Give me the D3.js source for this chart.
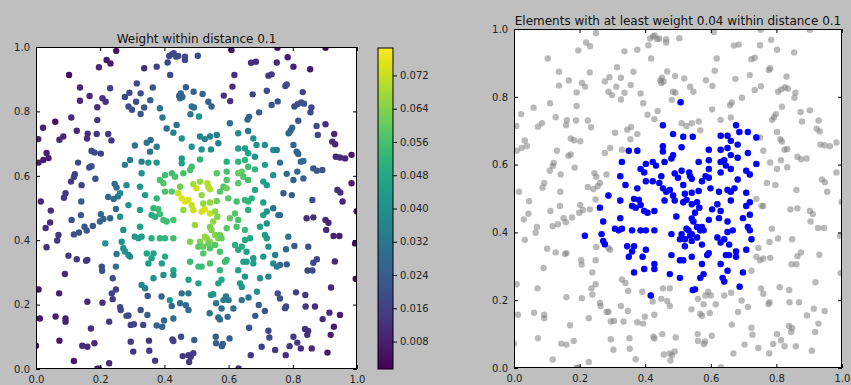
<!DOCTYPE html>
<html><head><meta charset="utf-8">
<script src="https://cdn.jsdelivr.net/npm/d3@7"></script>
<style>body{margin:0;background:#bfbfbf}svg{display:block}text{font-family:"DejaVu Sans",sans-serif}</style>
</head><body><svg id="c" width="851" height="385"></svg>
<script>
// point x positions
const xs = [
0.250,0.220,0.232,0.196,0.103,0.137,0.137,0.167,0.207,0.217,0.231,0.191,0.110,0.060,0.022,0.007,0.073,0.085,0.127,0.161,
0.159,0.191,0.189,0.225,0.235,0.173,0.183,0.202,0.033,0.023,0.008,0.039,0.131,0.166,0.173,0.121,0.118,0.109,0.185,0.142,
0.092,0.087,0.015,0.141,0.225,0.242,0.255,0.245,0.251,0.337,0.376,0.410,0.418,0.415,0.424,0.429,0.437,0.443,0.464,0.464,
0.277,0.291,0.288,0.299,0.314,0.312,0.326,0.337,0.326,0.364,0.356,0.386,0.394,0.467,0.446,0.451,0.456,0.449,
0.609,0.752,0.902,0.504,0.670,0.685,0.750,0.784,0.802,0.854,0.618,0.724,0.734,0.612,0.585,0.605,0.675,0.719,0.777,0.781,
0.831,0.491,0.519,0.537,0.547,0.485,0.492,0.481,0.508,0.734,0.753,0.695,0.664,0.659,0.805,0.815,0.826,0.835,0.858,0.855,
0.817,0.874,0.902,0.878,0.929,0.787,0.793,0.798,0.802,0.923,0.932,0.934,0.947,0.963,0.983,0.812,0.817,0.825,0.833,0.760,
0.864,0.875,0.892,0.814,0.781,0.802,0.833,0.939,0.948,0.983,0.955,0.861,0.771,0.797,
0.999,0.994,0.996,0.843,0.864,0.902,0.911,0.904,0.927,0.945,0.760,0.786,0.805,0.779,0.848,0.846,0.861,0.864,0.875,0.931,
0.919,0.760,0.781,0.753,0.760,0.810,0.839,0.779,0.776,0.840,0.869,0.914,0.893,0.947,0.928,0.918,0.838,0.848,0.845,0.802,
0.814,0.790,0.825,0.859,0.908,0.778,0.745,0.724,0.727,0.703,0.669,0.664,0.631,0.713,0.683,0.694,0.688,0.662,0.615,0.600,
0.584,0.592,0.641,0.561,0.578,0.541,0.568,0.573,0.597,0.560,0.561,0.579,0.582,0.603,0.493,0.490,0.482,0.545,0.552,0.641,
0.046,0.044,0.030,0.070,0.066,0.033,0.111,0.118,0.134,0.151,0.158,0.177,0.140,0.202,0.199,0.210,0.231,0.249,0.216,0.251,
0.249,0.101,0.127,0.156,0.160,0.205,0.206,0.239,0.008,0.072,0.090,0.160,0.207,0.239,0.249,0.236,0.262,0.264,0.282,0.288,
0.326,0.334,0.295,0.305,0.228,0.171,0.061,0.092,0.092,0.012,0.073,0.000,0.144,0.160,0.182,0.118,0.191,0.196,0.228,0.303,
0.295,0.352,0.353,0.371,0.425,0.428,0.452,0.457,0.475,0.477,0.347,0.376,0.393,0.348,0.391,0.417,0.423,0.399,0.428,0.467,
0.449,0.475,0.475,0.454,
0.604,0.407,0.438,0.428,0.454,0.511,0.526,0.542,0.563,0.568,0.630,0.661,0.677,0.687,0.713,0.308,0.345,0.357,0.355,0.376,
0.485,0.516,0.545,0.630,0.651,0.661,0.682,0.739,0.750,0.293,0.277,0.329,0.350,0.376,0.454,0.454,0.511,0.594,0.630,0.651,
0.661,0.682,0.713,0.329,0.402,0.423,0.433,0.459,0.485,0.480,0.563,0.594,0.630,0.641,0.646,0.661,0.708,0.739,0.282,0.324,
0.386,0.397,0.449,0.490,0.500,0.511,0.534,0.537,0.542,0.573,0.584,0.594,0.594,0.630,0.682,0.719,0.262,0.340,0.376,0.402,
0.423,0.443,0.454,0.464,0.475,0.516,0.521,0.542,0.563,0.599,0.625,0.651,0.661,0.672,0.708,0.739,0.755,0.288,0.324,0.366,
0.381,0.386,0.397,0.428,0.459,0.485,0.490,0.516,0.526,0.542,0.558,0.565,0.604,0.620,0.630,0.661,0.708,0.719,0.262,0.272,
0.324,0.360,0.371,0.407,0.495,0.542,0.547,0.552,0.594,0.625,0.651,0.698,0.719,0.267,0.308,0.319,0.329,0.360,0.386,0.402,
0.428,0.480,0.511,0.526,0.532,0.542,0.558,0.568,0.573,0.578,0.620,0.641,0.651,0.667,0.713,0.719,0.724,0.272,0.277,0.288,
0.293,0.345,0.366,0.360,0.402,0.506,0.521,0.537,0.542,0.521,0.558,0.573,0.630,0.656,0.677,0.708,0.745,0.350,0.392,0.428,
0.480,0.506,0.516,0.542,0.573,0.589,0.594,0.630,0.646,0.656,0.677,0.739,0.750,0.329,0.340,0.366,0.397,0.428,0.475,0.506,
0.568,0.578,0.636,0.651,0.698,0.724
];
// point y positions
const ys = [
0.988,0.960,0.949,0.937,0.913,0.874,0.833,0.848,0.841,0.830,0.872,0.813,0.781,0.768,0.749,0.714,0.712,0.722,0.740,0.731,
0.716,0.773,0.730,0.730,0.710,0.677,0.672,0.669,0.671,0.649,0.641,0.655,0.641,0.626,0.630,0.605,0.596,0.582,0.591,0.571,
0.546,0.532,0.520,0.520,0.534,0.528,0.536,0.575,0.564,0.934,0.939,0.952,0.913,0.972,0.978,0.981,0.970,0.972,0.970,0.960,
0.845,0.858,0.815,0.805,0.887,0.830,0.856,0.812,0.792,0.874,0.835,0.810,0.781,0.875,0.848,0.856,0.845,0.841,
0.991,0.998,0.998,0.973,0.951,0.954,0.952,0.968,0.939,0.931,0.913,0.911,0.915,0.877,0.849,0.832,0.853,0.864,0.879,0.884,
0.860,0.861,0.854,0.830,0.815,0.815,0.812,0.791,0.784,0.820,0.831,0.797,0.783,0.775,0.815,0.822,0.828,0.824,0.812,0.797,
0.771,0.755,0.760,0.727,0.730,0.732,0.740,0.749,0.696,0.706,0.698,0.659,0.657,0.654,0.665,0.675,0.668,0.644,0.646,0.641,
0.623,0.616,0.618,0.613,0.606,0.587,0.592,0.556,0.548,0.577,0.520,0.525,0.546,0.540,
0.490,0.390,0.280,0.468,0.471,0.463,0.454,0.432,0.413,0.413,0.478,0.411,0.382,0.372,0.380,0.306,0.306,0.330,0.341,0.334,
0.253,0.323,0.325,0.235,0.219,0.238,0.230,0.194,0.189,0.194,0.194,0.175,0.155,0.168,0.131,0.106,0.124,0.118,0.106,0.100,
0.082,0.071,0.064,0.064,0.051,0.043,0.059,0.119,0.098,0.069,0.043,0.128,0.002,0.180,0.165,0.199,0.240,0.222,0.188,0.214,
0.214,0.225,0.214,0.204,0.188,0.173,0.160,0.154,0.162,0.100,0.080,0.071,0.078,0.095,0.090,0.049,0.038,0.230,0.232,0.255,
0.492,0.455,0.438,0.416,0.399,0.378,0.463,0.418,0.424,0.442,0.430,0.444,0.478,0.481,0.458,0.466,0.468,0.497,0.390,0.357,
0.318,0.352,0.341,0.336,0.339,0.318,0.305,0.282,0.247,0.235,0.295,0.209,0.206,0.217,0.247,0.235,0.192,0.183,0.165,0.166,
0.183,0.137,0.137,0.139,0.147,0.126,0.163,0.157,0.147,0.157,0.088,0.072,0.072,0.069,0.080,0.025,0.001,0.001,0.018,0.054,
0.085,0.088,0.057,0.026,0.092,0.087,0.100,0.040,0.043,0.022,0.168,0.135,0.131,0.227,0.225,0.214,0.196,0.151,0.157,0.198,
0.204,0.183,0.235,0.235,
0.763,0.747,0.758,0.734,0.716,0.722,0.714,0.722,0.727,0.701,0.732,0.739,0.716,0.696,0.696,0.694,0.703,0.711,0.675,0.690,
0.690,0.682,0.682,0.685,0.685,0.670,0.659,0.680,0.680,0.649,0.634,0.644,0.641,0.641,0.654,0.639,0.651,0.644,0.644,0.649,
0.628,0.620,0.634,0.608,0.602,0.608,0.597,0.608,0.628,0.618,0.608,0.613,0.608,0.613,0.597,0.587,0.582,0.602,0.571,0.566,
0.587,0.577,0.566,0.574,0.561,0.582,0.577,0.566,0.558,0.551,0.566,0.561,0.587,0.577,0.556,0.571,0.546,0.540,0.530,0.551,
0.551,0.546,0.530,0.520,0.525,0.540,0.514,0.517,0.522,0.530,0.520,0.525,0.520,0.530,0.517,0.499,0.478,0.509,0.494,0.499,
0.496,0.481,0.463,0.463,0.494,0.509,0.494,0.489,0.496,0.483,0.489,0.473,0.468,0.483,0.463,0.494,0.478,0.489,0.473,0.432,
0.442,0.478,0.473,0.458,0.447,0.441,0.432,0.458,0.437,0.442,0.432,0.442,0.452,0.395,0.411,0.406,0.411,0.406,0.406,0.406,
0.406,0.395,0.395,0.411,0.406,0.395,0.416,0.406,0.416,0.406,0.385,0.380,0.401,0.406,0.416,0.406,0.380,0.375,0.365,0.354,
0.349,0.359,0.359,0.344,0.349,0.380,0.380,0.390,0.375,0.359,0.385,0.364,0.370,0.364,0.344,0.349,0.354,0.328,0.328,0.307,
0.333,0.318,0.318,0.328,0.307,0.333,0.339,0.307,0.333,0.333,0.328,0.328,0.318,0.261,0.251,0.282,0.292,0.292,0.277,0.266,
0.266,0.277,0.266,0.287,0.282,0.287
];
// weight within distance 0.1 for each point
const ws = [
.004,.006,.006,.010,.004,.010,.010,.010,.012,.012,.016,.012,.010,.004,.008,.008,.010,.010,.010,.012,
.012,.014,.014,.014,.014,.018,.018,.016,.008,.008,.008,.008,.018,.020,.020,.016,.016,.014,.020,.016,
.014,.014,.010,.024,.026,.030,.030,.028,.028,.012,.016,.018,.018,.018,.018,.018,.018,.018,.018,.018,
.018,.018,.020,.020,.018,.020,.020,.022,.022,.022,.024,.030,.032,.024,.026,.026,.026,.026,
.006,.004,.003,.018,.012,.012,.010,.008,.008,.006,.012,.014,.014,.012,.012,.012,.016,.018,.018,.018,
.016,.024,.026,.026,.026,.030,.030,.032,.041,.022,.022,.024,.026,.026,.020,.020,.020,.020,.018,.018,
.022,.018,.012,.018,.010,.026,.026,.026,.026,.010,.010,.010,.010,.010,.006,.026,.026,.028,.028,.030,
.022,.022,.022,.028,.028,.024,.024,.012,.012,.008,.010,.020,.024,.024,
.006,.004,.004,.012,.012,.010,.010,.010,.008,.008,.028,.030,.024,.028,.020,.018,.018,.018,.018,.010,
.010,.026,.024,.020,.020,.016,.014,.018,.018,.014,.012,.010,.010,.008,.008,.008,.012,.012,.012,.014,
.014,.014,.012,.010,.006,.012,.014,.018,.018,.016,.014,.020,.012,.022,.022,.024,.041,.030,.030,.032,
.032,.032,.030,.032,.030,.030,.028,.028,.028,.024,.024,.024,.024,.024,.024,.016,.016,.042,.042,.041,
.012,.012,.012,.014,.014,.012,.020,.020,.020,.022,.022,.022,.022,.026,.026,.026,.026,.028,.041,.032,
.030,.014,.014,.014,.014,.020,.020,.020,.006,.008,.010,.010,.012,.014,.016,.016,.018,.018,.018,.018,
.020,.018,.016,.016,.014,.012,.008,.008,.008,.006,.006,.004,.010,.010,.010,.006,.008,.008,.010,.012,
.014,.014,.014,.014,.016,.016,.018,.014,.014,.014,.026,.026,.026,.022,.026,.041,.026,.026,.028,.028,
.028,.028,.032,.030,
.030,.030,.030,.035,.042,.036,.036,.036,.034,.034,.038,.032,.041,.041,.041,.030,.030,.030,.030,.034,
.040,.040,.040,.044,.044,.045,.042,.041,.034,.034,.034,.035,.042,.042,.044,.046,.052,.050,.052,.052,
.054,.052,.045,.040,.055,.055,.056,.056,.055,.056,.058,.056,.060,.060,.058,.055,.046,.040,.038,.042,
.056,.058,.062,.068,.072,.066,.070,.070,.070,.058,.058,.062,.058,.058,.048,.044,.038,.044,.052,.056,
.058,.072,.074,.075,.074,.066,.066,.066,.062,.058,.056,.052,.052,.050,.046,.030,.028,.040,.044,.052,
.054,.055,.055,.056,.066,.072,.072,.074,.074,.072,.066,.064,.060,.058,.056,.050,.045,.042,.040,.040,
.045,.048,.050,.054,.066,.064,.064,.066,.058,.056,.054,.046,.040,.040,.042,.044,.044,.050,.052,.052,
.055,.064,.064,.066,.066,.066,.064,.064,.062,.060,.050,.050,.048,.048,.044,.044,.040,.040,.040,.038,
.038,.046,.046,.046,.048,.058,.060,.062,.058,.058,.058,.056,.048,.046,.044,.042,.034,.044,.046,.048,
.054,.054,.054,.056,.052,.054,.054,.046,.046,.044,.044,.038,.034,.036,.036,.040,.040,.042,.046,.046,
.046,.048,.044,.042,.040,.036
];
const xTicks = [0.0, 0.2, 0.4, 0.6, 0.8, 1.0];
const cbTicks = [0.008, 0.016, 0.024, 0.032, 0.040, 0.048, 0.056, 0.064, 0.072];
const cbRange = [0.0014, 0.0786];
const threshold = 0.04;
const leftTitle = "Weight within distance 0.1";
const rightTitle = "Elements with at least weight 0.04 within distance 0.1";

const pts = xs.map((x, i) => ({x, y: ys[i], w: ws[i]}));
const svg = d3.select("#c");
svg.append("rect").attr("width", 851).attr("height", 385).attr("fill", "#bfbfbf");
const fmt = d3.format(".1f");

function panel(id, L, R, T, B, title, titleY, drawPts) {
  const x = d3.scaleLinear().domain([0, 1]).range([L, R]);
  const y = d3.scaleLinear().domain([0, 1]).range([B, T]);
  svg.append("rect").attr("x", L).attr("y", T).attr("width", R - L).attr("height", B - T).attr("fill", "#fff");
  svg.append("clipPath").attr("id", id).append("rect").attr("x", L).attr("y", T).attr("width", R - L).attr("height", B - T);
  const g = svg.append("g").attr("clip-path", `url(#${id})`);
  drawPts(g, x, y);
  const axStyle = s => { s.selectAll("path").remove(); s.selectAll("line").attr("stroke", "#000");
    s.selectAll("text").attr("font-size", 10).attr("fill", "#222").attr("font-family", "DejaVu Sans"); };
  svg.append("g").attr("transform", `translate(0,${B})`).call(d3.axisBottom(x).tickValues(xTicks).tickFormat(fmt).tickSizeInner(-4).tickSizeOuter(0).tickPadding(7)).call(axStyle);
  svg.append("g").attr("transform", `translate(0,${T})`).call(d3.axisTop(x).tickValues(xTicks).tickFormat("").tickSizeInner(-4).tickSizeOuter(0)).call(axStyle);
  svg.append("g").attr("transform", `translate(${L},0)`).call(d3.axisLeft(y).tickValues(xTicks).tickFormat(fmt).tickSizeInner(-4).tickSizeOuter(0).tickPadding(6)).call(axStyle);
  svg.append("g").attr("transform", `translate(${R},0)`).call(d3.axisRight(y).tickValues(xTicks).tickFormat("").tickSizeInner(-4).tickSizeOuter(0)).call(axStyle);
  svg.append("rect").attr("x", L + 0.5).attr("y", T + 0.5).attr("width", R - L - 1).attr("height", B - T - 1).attr("fill", "none").attr("stroke", "#000").attr("stroke-width", 1);
  svg.append("text").attr("x", (L + R) / 2).attr("y", titleY).attr("text-anchor", "middle").attr("font-size", 12).attr("fill", "#111").text(title);
}

const color = d3.scaleSequential(d3.interpolateViridis).domain(cbRange);

panel("cl", 36, 357, 47, 369, leftTitle, 43, (g, x, y) => {
  g.selectAll("circle").data(pts).join("circle")
    .attr("cx", d => x(d.x)).attr("cy", d => y(d.y)).attr("r", 3.2)
    .attr("fill", d => color(d.w));
});

panel("cr", 514, 842, 29, 368, rightTitle, 25, (g, x, y) => {
  g.append("g").selectAll("circle").data(pts).join("circle")
    .attr("cx", d => x(d.x)).attr("cy", d => y(d.y)).attr("r", 3.2)
    .attr("fill", "#808080").attr("fill-opacity", 0.55);
  g.append("g").selectAll("circle").data(pts.filter(d => d.w >= threshold)).join("circle")
    .attr("cx", d => x(d.x)).attr("cy", d => y(d.y)).attr("r", 3.2)
    .attr("fill", "#0000ff");
});

// colorbar
const cbL = 378, cbR = 393, cbT = 48, cbB = 369;
const cy = d3.scaleLinear().domain(cbRange).range([cbB, cbT]);
const grad = svg.append("defs").append("linearGradient").attr("id", "vg").attr("x1", 0).attr("y1", 1).attr("x2", 0).attr("y2", 0);
d3.range(0, 1.0001, 0.05).forEach(t => grad.append("stop").attr("offset", t).attr("stop-color", d3.interpolateViridis(t)));
svg.append("rect").attr("x", cbL).attr("y", cbT).attr("width", cbR - cbL).attr("height", cbB - cbT).attr("fill", "url(#vg)").attr("stroke", "#000").attr("stroke-width", 1);
svg.append("g").attr("transform", `translate(${cbR},0)`)
  .call(d3.axisRight(cy).tickValues(cbTicks).tickFormat(d3.format(".3f")).tickSizeInner(4).tickSizeOuter(0).tickPadding(3))
  .call(s => { s.selectAll("path").remove(); s.selectAll("line").attr("stroke", "#000");
    s.selectAll("text").attr("font-size", 10).attr("fill", "#222").attr("font-family", "DejaVu Sans"); });
</script></body></html>
